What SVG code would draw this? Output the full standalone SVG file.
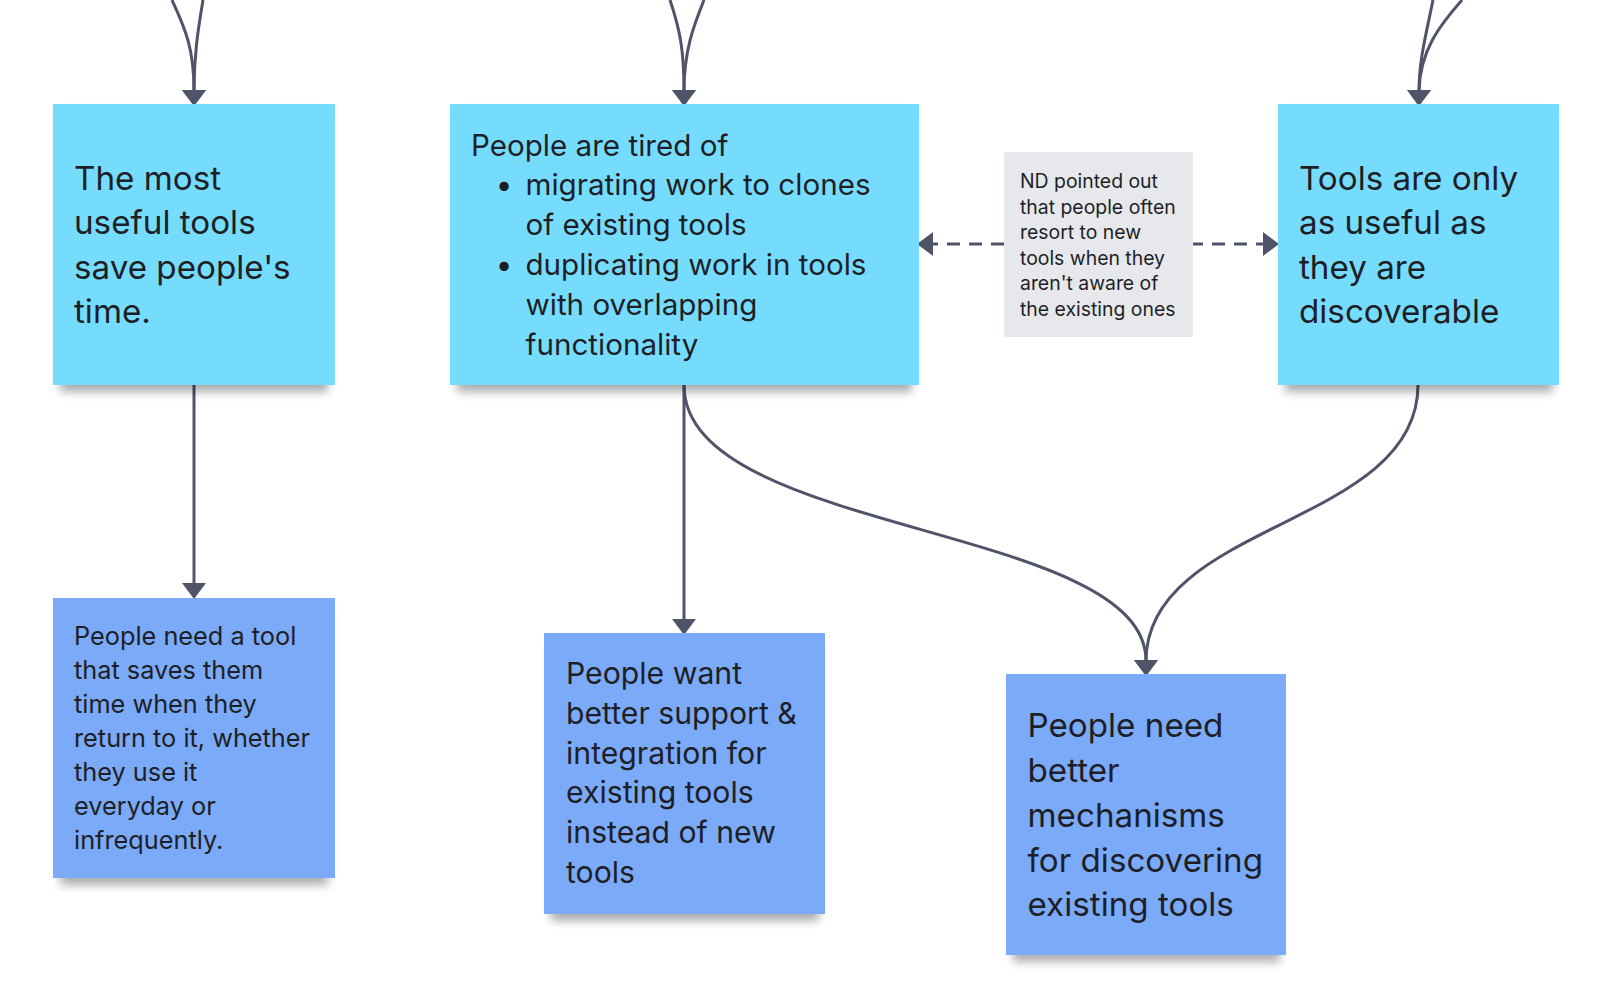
<svg xmlns="http://www.w3.org/2000/svg" width="1607" height="996" viewBox="0 0 1607 996">
<style>
.cyan{fill:#76dcfd}
.blue{fill:#7baaf8}
.note{fill:#e7e8ec}
.shadow{fill:#000;opacity:0.32;filter:url(#blur)}
text{font-family:Inter,"Noto Sans","Liberation Sans",sans-serif;fill:#1e1f26}
.t33{font-size:33.2px}
.t29{font-size:29.6px}
.t30{font-size:30.2px}
.t25{font-size:25.3px}
.t19{font-size:19.4px}
.edge{fill:none;stroke:#4f5468;stroke-width:3}
.dash{stroke-dasharray:13 9}
</style>
<defs>
<filter id="blur" x="-20%" y="-20%" width="140%" height="140%"><feGaussianBlur stdDeviation="5"/></filter>
<marker id="arr" viewBox="0 0 16 24" markerWidth="16" markerHeight="24" markerUnits="userSpaceOnUse" refX="1" refY="12" orient="auto"><path d="M0,0 L16,12 L0,24 Z" fill="#4f5468"/></marker>
</defs>
<rect width="1607" height="996" fill="#ffffff"/>

<g id="connectors">
<path class="edge" d="M172,0 C186,30 194,50 194,91" marker-end="url(#arr)"/>
<path class="edge" d="M203,0 C198,30 194,55 194,91" marker-end="url(#arr)"/>
<path class="edge" d="M670,0 C680,30 684,50 684,91" marker-end="url(#arr)"/>
<path class="edge" d="M704,0 C694,25 684,50 684,91" marker-end="url(#arr)"/>
<path class="edge" d="M1433,0 C1426,35 1419,60 1419,91" marker-end="url(#arr)"/>
<path class="edge" d="M1462,0 C1440,25 1420,50 1419,91" marker-end="url(#arr)"/>
<path class="edge" d="M194,385 L194,584" marker-end="url(#arr)"/>
<path class="edge" d="M684,385 L684,620" marker-end="url(#arr)"/>
<path class="edge" d="M684,385 C684,536 1146,523 1146,661" marker-end="url(#arr)"/>
<path class="edge" d="M1418,385 C1418,526 1146,522 1146,661" marker-end="url(#arr)"/>
<path class="edge dash" d="M1004,244 L932,244" marker-end="url(#arr)"/>
<path class="edge dash" d="M1190,244 L1264,244" marker-end="url(#arr)"/>
</g>

<g id="node-most-useful">
<rect class="shadow" x="60" y="112" width="268" height="280"/>
<rect class="cyan" x="53" y="104" width="282" height="281"/>
<text class="t33"><tspan x="74" y="189.5">The most</tspan><tspan x="74" y="234">useful tools</tspan><tspan x="74" y="278.5">save people's</tspan><tspan x="74" y="323">time.</tspan></text>
</g>

<g id="node-tired-of">
<rect class="shadow" x="457" y="112" width="455" height="280"/>
<rect class="cyan" x="450" y="104" width="469" height="281"/>
<text class="t29"><tspan x="471" y="155.5">People are tired of</tspan></text>
<text class="t29" text-anchor="middle"><tspan x="504" y="195">•</tspan><tspan x="504" y="275">•</tspan></text>
<text class="t29"><tspan x="525.5" y="195">migrating work to clones</tspan><tspan x="525.5" y="235">of existing tools</tspan><tspan x="525.5" y="275">duplicating work in tools</tspan><tspan x="525.5" y="315">with overlapping</tspan><tspan x="525.5" y="355">functionality</tspan></text>
</g>

<g id="node-note">
<rect class="note" x="1004" y="152" width="189" height="185" rx="2"/>
<text class="t19"><tspan x="1020" y="188">ND pointed out</tspan><tspan x="1020" y="213.5">that people often</tspan><tspan x="1020" y="239">resort to new</tspan><tspan x="1020" y="264.5">tools when they</tspan><tspan x="1020" y="290">aren't aware of</tspan><tspan x="1020" y="315.5">the existing ones</tspan></text>
</g>

<g id="node-discoverable">
<rect class="shadow" x="1285" y="112" width="268" height="280"/>
<rect class="cyan" x="1278" y="104" width="281" height="281"/>
<text class="t33"><tspan x="1299" y="189.5">Tools are only</tspan><tspan x="1299" y="234">as useful as</tspan><tspan x="1299" y="278.5">they are</tspan><tspan x="1299" y="323">discoverable</tspan></text>
</g>

<g id="node-saves-time">
<rect class="shadow" x="60" y="606" width="268" height="279"/>
<rect class="blue" x="53" y="598" width="282" height="280"/>
<text class="t25"><tspan x="74" y="645">People need a tool</tspan><tspan x="74" y="679">that saves them</tspan><tspan x="74" y="713">time when they</tspan><tspan x="74" y="747">return to it, whether</tspan><tspan x="74" y="781">they use it</tspan><tspan x="74" y="815">everyday or</tspan><tspan x="74" y="849">infrequently.</tspan></text>
</g>

<g id="node-better-support">
<rect class="shadow" x="551" y="641" width="268" height="280"/>
<rect class="blue" x="544" y="633" width="281" height="281"/>
<text class="t30"><tspan x="566" y="684">People want</tspan><tspan x="566" y="724">better support &amp;</tspan><tspan x="566" y="763.5">integration for</tspan><tspan x="566" y="803">existing tools</tspan><tspan x="566" y="843">instead of new</tspan><tspan x="566" y="883">tools</tspan></text>
</g>

<g id="node-mechanisms">
<rect class="shadow" x="1013" y="682" width="267" height="280"/>
<rect class="blue" x="1006" y="674" width="280" height="281"/>
<text class="t33"><tspan x="1027.5" y="737">People need</tspan><tspan x="1027.5" y="782">better</tspan><tspan x="1027.5" y="827">mechanisms</tspan><tspan x="1027.5" y="871.5">for discovering</tspan><tspan x="1027.5" y="916">existing tools</tspan></text>
</g>
</svg>
